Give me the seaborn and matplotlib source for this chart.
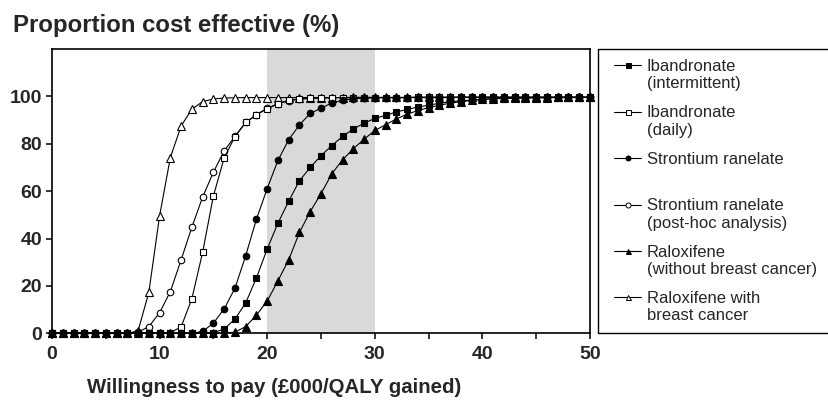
import numpy as np
import pandas as pd
import matplotlib
matplotlib.use("Agg")
import matplotlib.pyplot as plt
import matplotlib.transforms as mtransforms
from matplotlib.lines import Line2D
from matplotlib.legend_handler import HandlerLine2D
import seaborn as sns

# ---------------- data ----------------
wtp = list(range(0, 51))  # £000/QALY gained

ibandronate_intermittent = [0]*15 + [
    0.3, 1.8, 6.0, 12.8, 23.4, 35.6, 46.5, 55.8, 64.4, 70.0,
    75.0, 79.2, 83.1, 86.2, 88.7, 90.7, 92.0, 93.4, 94.5, 95.5,
    96.3, 97.1, 97.7, 98.1, 98.5, 98.8, 99.0, 99.1, 99.2, 99.3,
    99.4, 99.4, 99.5, 99.5, 99.5, 99.6]

ibandronate_daily = [0]*11 + [
    0.3, 2.7, 14.6, 34.2, 58.0, 74.0, 83.0, 89.0, 92.2, 94.8,
    96.9, 98.3, 98.9, 99.2, 99.4, 99.5, 99.5, 99.5, 99.5, 99.5,
    99.5, 99.5, 99.5, 99.6, 99.6, 99.6, 99.6, 99.6, 99.6, 99.6,
    99.6, 99.6, 99.6, 99.6, 99.6, 99.6, 99.6, 99.6, 99.6, 99.6]

strontium = [0]*14 + [
    0.8, 4.3, 10.3, 19.0, 32.7, 48.2, 61.1, 73.0, 81.7, 88.0,
    92.8, 95.0, 97.2, 98.4, 99.0, 99.3, 99.4, 99.5, 99.5, 99.5,
    99.5, 99.5, 99.5, 99.5, 99.6, 99.6, 99.6, 99.6, 99.6, 99.6,
    99.6, 99.6, 99.6, 99.6, 99.6, 99.6, 99.6]

strontium_posthoc = [0]*8 + [
    0.5, 2.8, 8.7, 17.6, 31.0, 44.8, 57.5, 68.0, 77.0, 83.1,
    89.0, 92.3, 95.0, 96.8, 98.2, 98.9, 99.2, 99.4, 99.5, 99.5,
    99.5, 99.5, 99.5, 99.5, 99.5, 99.5, 99.6, 99.6, 99.6, 99.6,
    99.6, 99.6, 99.6, 99.6, 99.6, 99.6, 99.6, 99.6, 99.6, 99.6,
    99.6, 99.6, 99.6]

raloxifene = [0]*17 + [
    0.5, 2.8, 7.7, 13.6, 22.2, 31.0, 42.6, 51.4, 58.9, 67.3,
    73.2, 77.9, 81.9, 85.6, 88.0, 90.5, 92.5, 94.0, 95.3, 96.3,
    97.1, 97.8, 98.3, 98.7, 99.0, 99.2, 99.3, 99.4, 99.5, 99.5,
    99.6, 99.6, 99.6, 99.6]

raloxifene_bc = [0]*8 + [
    1.0, 17.3, 49.6, 74.2, 87.5, 94.6, 97.8, 98.9, 99.3, 99.4,
    99.5, 99.5, 99.5, 99.5, 99.5, 99.5, 99.5, 99.5, 99.5, 99.5,
    99.6, 99.6, 99.6, 99.6, 99.6, 99.6, 99.6, 99.6, 99.6, 99.6,
    99.6, 99.6, 99.6, 99.6, 99.6, 99.6, 99.6, 99.6, 99.6, 99.6,
    99.6, 99.6, 99.6]

series_labels = [
    "Ibandronate\n(intermittent)",
    "Ibandronate\n(daily)",
    "Strontium ranelate\n ",
    "Strontium ranelate\n(post-hoc analysis)",
    "Raloxifene\n(without breast cancer)",
    "Raloxifene with\nbreast cancer",
]
series_values = [ibandronate_intermittent, ibandronate_daily, strontium,
                 strontium_posthoc, raloxifene, raloxifene_bc]
series_markers = ["s", "s", "o", "o", "^", "^"]
series_filled = [True, False, True, False, True, False]

shade_low, shade_high = 20, 30
x_major = [0, 10, 20, 30, 40, 50]
x_minor = [5, 15, 25, 35, 45]
y_ticks = [0, 20, 40, 60, 80, 100]

# ---------------- style ----------------
sns.set_style("ticks")
plt.rcParams["font.family"] = ["Liberation Sans", "DejaVu Sans"]

fig = plt.figure(figsize=(8.29, 4.03), dpi=100)
ax = fig.add_axes([52/829, 1-333.3/403, (590-52)/829, (333.3-49)/403])

ax.axvspan(shade_low, shade_high, color="#d9d9d9", lw=0, zorder=0)

draw_order = [5, 4, 3, 1, 2, 0]
for i in draw_order:
    mk = series_markers[i]
    ms = 5.2 if mk == "^" else (4.7 if mk == "o" else 4.7)
    sns.lineplot(x=wtp, y=series_values[i], ax=ax, color="black",
                 linewidth=0.8, marker=mk, markersize=ms,
                 markerfacecolor="black" if series_filled[i] else "white",
                 markeredgecolor="black", markeredgewidth=0.8,
                 clip_on=False, legend=False, zorder=3 + draw_order.index(i))

ax.set_xlim(0, 50)
ax.set_ylim(0, 120)
ax.set_xticks(x_major)
ax.set_xticks(x_minor, minor=True)
ax.set_yticks(y_ticks)
ax.set_xticklabels([str(v) for v in x_major])
ax.set_yticklabels([str(v) for v in y_ticks])
ax.tick_params(axis="both", which="both", direction="out", length=4.5,
               width=1.1, color="black")
ax.tick_params(axis="x", which="major", pad=4.5)
ax.tick_params(axis="y", which="major", pad=2.5)
for lab in ax.get_xticklabels() + ax.get_yticklabels():
    lab.set_fontsize(14)
    lab.set_fontweight("bold")
for sp in ax.spines.values():
    sp.set_visible(True)
    sp.set_linewidth(1.2)
    sp.set_color("black")
ax.set_xlabel("")
ax.set_ylabel("")

fig.text(13/829, 1-32/403, "Proportion cost effective (%)", fontsize=17.3,
         fontweight="bold", ha="left", va="baseline")
fig.text(274/829, 1-393/403, "Willingness to pay (\u00a3000/QALY gained)",
         fontsize=14.7, fontweight="bold", ha="center", va="baseline")


class FirstLineHandler(HandlerLine2D):
    def __init__(self, shift=0.0, **kw):
        super().__init__(**kw)
        self.shift = shift

    def create_artists(self, legend, orig_handle, xdescent, ydescent,
                       width, height, fontsize, trans):
        arts = super().create_artists(legend, orig_handle, xdescent, ydescent,
                                      width, height, fontsize, trans)
        t = mtransforms.Affine2D().translate(0, self.shift) + trans
        for a in arts:
            a.set_transform(t)
        return arts


leg_fs = 12
handles = []
for i in range(len(series_labels)):
    handles.append(Line2D([], [], color="black", lw=0.8,
                          marker=series_markers[i], markersize=3.6,
                          markerfacecolor="black" if series_filled[i] else "white",
                          markeredgecolor="black", markeredgewidth=0.7))
hmap = {h: FirstLineHandler(shift=0.6*leg_fs, xpad=0.36) for h in handles}
leg = fig.legend(handles, series_labels, loc="upper left",
                 bbox_to_anchor=(598/829, 0.0, 1-598/829 + 0.01, 1-49/403),
                 bbox_transform=fig.transFigure, mode="expand",
                 borderaxespad=0, frameon=True, fancybox=False,
                 edgecolor="black", framealpha=1, fontsize=leg_fs,
                 handlelength=1.98, handletextpad=0.36, labelspacing=0.84,
                 borderpad=0.6, handler_map=hmap)
leg.get_frame().set_linewidth(1.0)

fig.savefig("out.png", dpi=100)
